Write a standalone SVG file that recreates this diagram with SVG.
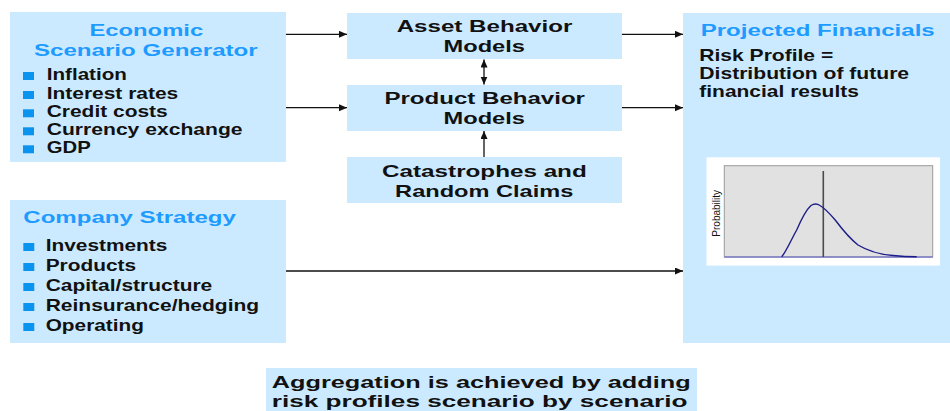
<svg xmlns="http://www.w3.org/2000/svg" width="950" height="411" viewBox="0 0 950 411">
  <style>
    .box{fill:#cceaff}
    .t{font-family:"Liberation Sans",Arial,Helvetica,sans-serif;font-weight:bold;fill:#111;font-size:16px}
    .h{fill:#1e9bff;font-size:17px}
    .m{text-anchor:middle;font-size:17px}
    .ag{font-size:16.5px}
    .bul{fill:#0a94f0}
    .conn{stroke:#111;stroke-width:1.3;fill:none}
  </style>
  <defs>
    <marker id="arrow" markerUnits="userSpaceOnUse" markerWidth="9" markerHeight="8" refX="8" refY="3.5" orient="auto-start-reverse">
      <path d="M0,0 L8,3.5 L0,7 z" fill="#111"/>
    </marker>
  </defs>

  <rect width="950" height="411" fill="#fff"/>

  <!-- Economic Scenario Generator -->
  <g id="esg">
    <rect class="box" x="10" y="12" width="276" height="150"/>
    <text class="t h" text-anchor="middle" transform="matrix(1.40 0 0 1 146.3 35.7)">Economic</text>
    <text class="t h" text-anchor="middle" transform="matrix(1.42 0 0 1 145.8 56)">Scenario Generator</text>
    <rect class="bul" x="23" y="72" width="11" height="8"/>
    <rect class="bul" x="23" y="91" width="11" height="8"/>
    <rect class="bul" x="23" y="109.3" width="11" height="8"/>
    <rect class="bul" x="23" y="127.3" width="11" height="8"/>
    <rect class="bul" x="23" y="145.3" width="11" height="8"/>
    <text class="t" transform="matrix(1.29 0 0 1 46.7 80)">Inflation</text>
    <text class="t" transform="matrix(1.31 0 0 1 46.7 99)">Interest rates</text>
    <text class="t" transform="matrix(1.31 0 0 1 46.7 117.3)">Credit costs</text>
    <text class="t" transform="matrix(1.32 0 0 1 46.7 135.3)">Currency exchange</text>
    <text class="t" transform="matrix(1.27 0 0 1 46.7 153.3)">GDP</text>
  </g>

  <!-- Company Strategy -->
  <g id="strategy">
    <rect class="box" x="10" y="200" width="276" height="143"/>
    <text class="t h" transform="matrix(1.416 0 0 1 23.3 223.3)">Company Strategy</text>
    <rect class="bul" x="23.3" y="243" width="11" height="8"/>
    <rect class="bul" x="23.3" y="263" width="11" height="8"/>
    <rect class="bul" x="23.3" y="283" width="11" height="8"/>
    <rect class="bul" x="23.3" y="303" width="11" height="8"/>
    <rect class="bul" x="23.3" y="323" width="11" height="8"/>
    <text class="t" transform="matrix(1.303 0 0 1 45.7 251)">Investments</text>
    <text class="t" transform="matrix(1.303 0 0 1 45.7 271)">Products</text>
    <text class="t" transform="matrix(1.311 0 0 1 45.7 291)">Capital/structure</text>
    <text class="t" transform="matrix(1.313 0 0 1 45.7 311)">Reinsurance/hedging</text>
    <text class="t" transform="matrix(1.30 0 0 1 45.7 331)">Operating</text>
  </g>

  <!-- Asset Behavior Models -->
  <g id="asset">
    <rect class="box" x="347" y="13" width="275" height="46"/>
    <text class="t m" transform="matrix(1.42 0 0 1 484.5 31.7)">Asset Behavior</text>
    <text class="t m" transform="matrix(1.39 0 0 1 484.2 52.3)">Models</text>
  </g>

  <!-- Product Behavior Models -->
  <g id="product">
    <rect class="box" x="347" y="85" width="275" height="46"/>
    <text class="t m" transform="matrix(1.416 0 0 1 484.7 104.3)">Product Behavior</text>
    <text class="t m" transform="matrix(1.39 0 0 1 484.2 124.3)">Models</text>
  </g>

  <!-- Catastrophes and Random Claims -->
  <g id="catastrophes">
    <rect class="box" x="347" y="157" width="275" height="46"/>
    <text class="t m" transform="matrix(1.426 0 0 1 484.4 176.7)">Catastrophes and</text>
    <text class="t m" transform="matrix(1.388 0 0 1 484.2 196.7)">Random Claims</text>
  </g>

  <!-- Projected Financials with risk profile chart -->
  <g id="projected">
    <rect class="box" x="683" y="13" width="267" height="330"/>
    <text class="t h" transform="matrix(1.417 0 0 1 700.7 36)">Projected Financials</text>
    <text class="t" transform="matrix(1.316 0 0 1 699.3 61)">Risk Profile =</text>
    <text class="t" transform="matrix(1.32 0 0 1 699.3 79)">Distribution of future</text>
    <text class="t" transform="matrix(1.311 0 0 1 699.3 97.3)">financial results</text>
    <g id="chart">
      <rect x="706.5" y="157.3" width="233.5" height="108.3" fill="#fff"/>
      <rect x="724.3" y="165.7" width="208.4" height="91.3" fill="#e1e1e1" stroke="#9a9a9a" stroke-width="1"/>
      <text transform="translate(720,213.3) rotate(-90)" text-anchor="middle" font-family="'Liberation Sans',Arial,sans-serif" font-size="10" fill="#111">Probability</text>
      <line x1="724.3" y1="257" x2="932.7" y2="257" stroke="#7d7dc8" stroke-width="1.6"/>
      <line x1="823.3" y1="171" x2="823.3" y2="257" stroke="#4a4a4a" stroke-width="1.6"/>
      <path d="M781.7,256.7 C786,252 790,242 796.7,230 C801,220 806,210 811,205.5 C814,203.5 817,203.5 820,205.5 C826,209 830,214 836,221 C842,229 848,237 858,245 C868,251 880,254.5 893,255.5 C903,256.5 910,256.7 916.7,256.7" fill="none" stroke="#1c1c8a" stroke-width="1.4"/>
    </g>
  </g>

  <!-- Aggregation note -->
  <g id="aggregation">
    <rect class="box" x="266" y="368" width="431" height="43"/>
    <text class="t ag" transform="matrix(1.534 0 0 1 271.7 388.3)">Aggregation is achieved by adding</text>
    <text class="t ag" transform="matrix(1.586 0 0 1 271.7 406.8)">risk profiles scenario by scenario</text>
  </g>

  <!-- Connectors -->
  <g id="connectors">
    <line class="conn" x1="286" y1="34.3" x2="347" y2="34.3" marker-end="url(#arrow)"/>
    <line class="conn" x1="286" y1="107.7" x2="347" y2="107.7" marker-end="url(#arrow)"/>
    <line class="conn" x1="622" y1="34.3" x2="683" y2="34.3" marker-end="url(#arrow)"/>
    <line class="conn" x1="622" y1="107.7" x2="683" y2="107.7" marker-end="url(#arrow)"/>
    <line class="conn" x1="484" y1="59.5" x2="484" y2="84.5" marker-start="url(#arrow)" marker-end="url(#arrow)"/>
    <line class="conn" x1="484" y1="157" x2="484" y2="131" marker-end="url(#arrow)"/>
    <line class="conn" x1="286" y1="271" x2="683" y2="271" marker-end="url(#arrow)"/>
  </g>
</svg>
